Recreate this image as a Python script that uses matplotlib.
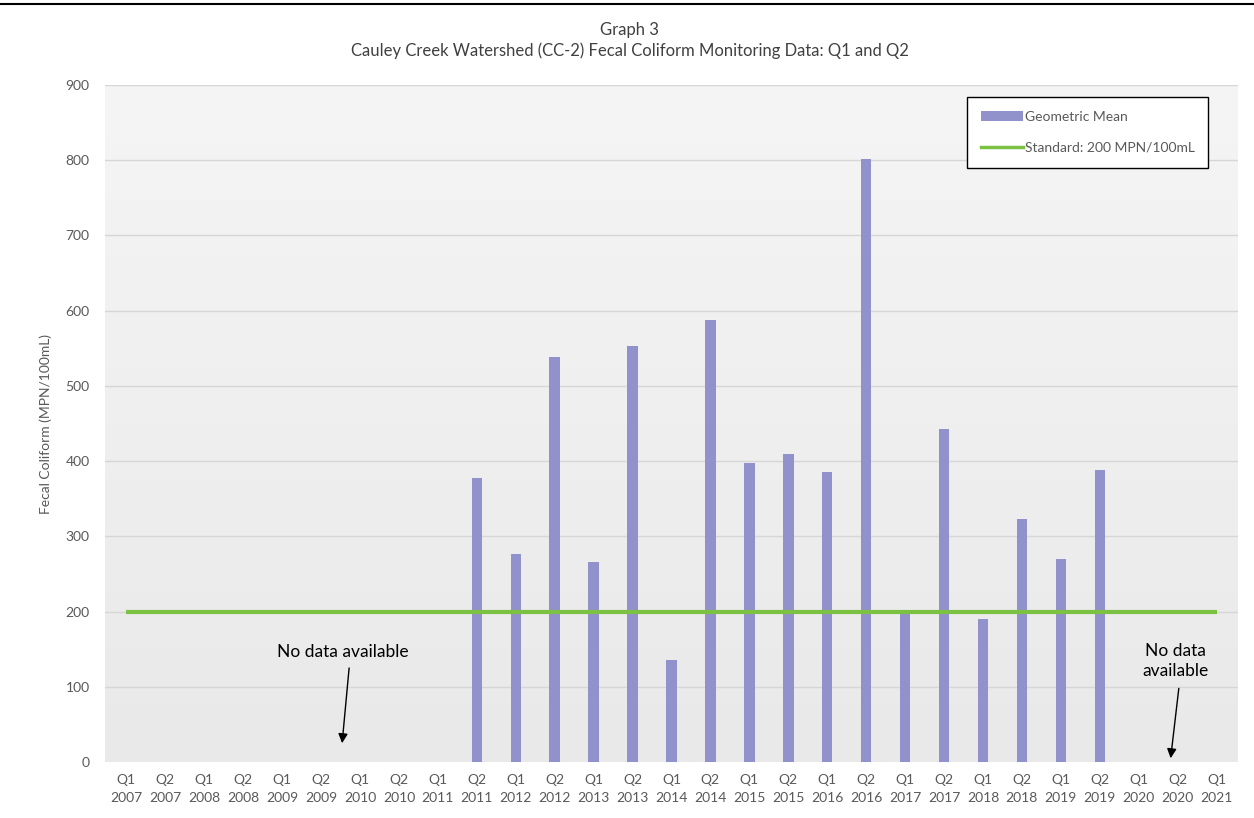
import matplotlib
matplotlib.use("Agg")
import matplotlib.pyplot as plt
import numpy as np
from matplotlib.patches import Patch
from matplotlib.lines import Line2D
from matplotlib.colors import LinearSegmentedColormap

plt.rcParams['font.family'] = ['Lato', 'DejaVu Sans']

quarters = ["Q1", "Q2"] * 14 + ["Q1"]
years = [str(y) for y in range(2007, 2021) for _ in range(2)] + ["2021"]
categories = [f"{q}\n{y}" for q, y in zip(quarters, years)]

# Geometric mean values (None = no data)
geo_mean = [None, None, None, None, None, None, None, None, None,
            378, 277, 538, 266, 553, 136, 587, 398, 410, 385, 802,
            198, 443, 190, 323, 270, 388, None, None, None]
standard = [200] * len(categories)

bar_color = "#9191cb"
line_color = "#7cc242"
text_color = "#595959"

fig = plt.figure(figsize=(12.54, 8.18), dpi=100)
ax = fig.add_axes([105 / 1254, 1 - 762 / 818, (1238 - 105) / 1254, (762 - 85) / 818])

x = np.arange(len(categories))
ax.set_xlim(-0.55, len(categories) - 0.45)
ax.set_ylim(0, 900)

# gradient background (darker at bottom)
grad = np.linspace(0, 1, 256).reshape(-1, 1)
cmap = LinearSegmentedColormap.from_list("bg", ["#e9e9e9", "#f5f5f5"])
ax.imshow(grad, cmap=cmap, aspect="auto", extent=[0, 1, 0, 1], origin="lower",
          transform=ax.transAxes, zorder=0)

for v in range(100, 901, 100):
    ax.axhline(v, color="#d6d6d6", lw=1, zorder=1)

vals = [v if v is not None else 0 for v in geo_mean]
ax.bar(x, vals, width=0.27, color=bar_color, zorder=2)
ax.plot(x, standard, color=line_color, lw=3, zorder=3, solid_capstyle="butt")

for s in ax.spines.values():
    s.set_visible(False)
ax.tick_params(length=0)
ax.set_xticks(x)
ax.set_xticklabels(categories, fontsize=10, color=text_color, linespacing=1.55)
ax.tick_params(axis="x", pad=9)
ax.set_yticks(range(0, 901, 100))
ax.set_yticklabels([str(v) for v in range(0, 901, 100)], fontsize=10, color=text_color)
ax.tick_params(axis="y", pad=11)
ax.set_ylabel("Fecal Coliform (MPN/100mL)", fontsize=10, color=text_color, labelpad=10)

fig.text(0.502, 1 - 30 / 818, "Graph 3", ha="center", va="center", fontsize=12, color="#404040")
fig.text(0.502, 1 - 51 / 818, "Cauley Creek Watershed (CC-2) Fecal Coliform Monitoring Data: Q1 and Q2",
         ha="center", va="center", fontsize=12, color="#404040")

# top page border
fig.add_artist(Line2D([0, 1], [1 - 4 / 818, 1 - 4 / 818], color="black", lw=1.5,
                      transform=fig.transFigure))

handles = [Patch(facecolor=bar_color, edgecolor="none"),
           Line2D([0], [0], color=line_color, lw=2.5)]
leg = ax.legend(handles, ["Geometric Mean", "Standard: 200 MPN/100mL"],
                loc="upper left", bbox_to_anchor=((967 - 105) / 1133, 1 - (97 - 85) / 677),
                fontsize=10, frameon=True, fancybox=False, borderpad=1.0,
                labelspacing=1.35, handlelength=3.0, handletextpad=0.15, borderaxespad=0)
leg.get_frame().set_edgecolor("black")
leg.get_frame().set_linewidth(1.0)
leg.get_frame().set_facecolor("white")
leg.get_frame().set_alpha(1)
for t in leg.get_texts():
    t.set_color(text_color)

ax.text(5.56, 146, "No data available", ha="center", va="center", fontsize=12.5, color="black")
ax.annotate("", xy=(5.54, 25), xytext=(5.72, 125),
            arrowprops=dict(arrowstyle="-|>", color="black", lw=1, mutation_scale=14,
                            shrinkA=0, shrinkB=0))
ax.text(26.95, 134, "No data\navailable", ha="center", va="center", fontsize=12.5,
        color="black", linespacing=1.3)
ax.annotate("", xy=(26.82, 5), xytext=(27.03, 98),
            arrowprops=dict(arrowstyle="-|>", color="black", lw=1, mutation_scale=14,
                            shrinkA=0, shrinkB=0))

fig.savefig("out.png", dpi=100, facecolor="white")
